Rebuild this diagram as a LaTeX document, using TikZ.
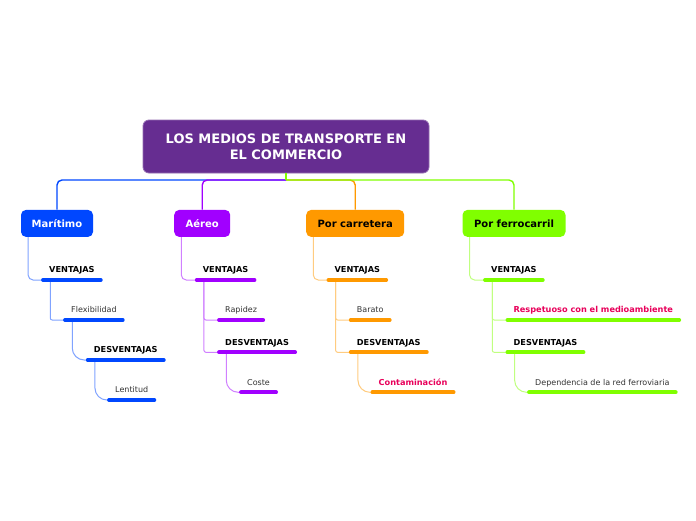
\documentclass[tikz,border=0pt]{standalone}
\usepackage{fontspec}
\setmainfont{DejaVu Sans}

\definecolor{cpurple}{HTML}{662D91}
\definecolor{cblue}{HTML}{0047FF}
\definecolor{cviolet}{HTML}{A100FF}
\definecolor{corange}{HTML}{FF9900}
\definecolor{cgreen}{HTML}{80FF00}
\definecolor{cpink}{HTML}{E8005A}

\begin{document}
\begin{tikzpicture}[x=1pt, y=-1pt,
    root/.style={fill=cpurple, draw=cpurple!70!white, line width=0.8pt, rounded corners=6pt,
      minimum width=286pt, minimum height=53pt, text=white, align=center,
      font=\fontsize{13}{16}\selectfont\bfseries},
    branch/.style={rounded corners=5pt, minimum height=27pt, inner sep=0pt,
      text height=9pt, text depth=0.2pt, font=\fontsize{10}{12}\selectfont\bfseries},
    item/.style={anchor=base west, inner xsep=6pt, inner ysep=0pt, text=black!80,
      font=\fontsize{8}{10}\selectfont},
    itemb/.style={item, text=black, font=\fontsize{8.2}{10}\selectfont\bfseries},
    bar/.style={line width=3.8pt, line cap=round},
    trunk/.style={line width=1.4pt, rounded corners=5pt},
    link/.style={line width=1pt}]
    \fill[white] (0,0) rectangle (696,520);

    \node[root] (root) at (286,146.5) {LOS MEDIOS DE TRANSPORTE EN\\EL COMMERCIO};
    \coordinate (fork) at (286,180);

    \node[branch, fill=cblue, text=white, minimum width=72pt] (mar) at (57,223.4) {Marítimo};
    \node[branch, fill=cviolet, text=white, minimum width=56pt] (aer) at (202.2,223.4) {Aéreo};
    \node[branch, fill=corange, minimum width=98pt] (car) at (355.2,223.4) {Por carretera};
    \node[branch, fill=cgreen, minimum width=103pt] (fer) at (514,223.4) {Por ferrocarril};

    \draw[trunk, cblue] (fork) -| (mar.north);
    \draw[trunk, corange] (fork) -| (car.north);
    \draw[trunk, cviolet] (fork) -| (aer.north);
    \draw[trunk, cgreen] (fork) -| (fer.north);
    \draw[line width=1.4pt, cgreen] (root.south) -- (fork);

    % Maritimo
    \node[itemb] (mv) at (43,272.7) {VENTAJAS};
    \node[item] (mf) at (65,312.7) {Flexibilidad};
    \node[itemb] (md) at (87.7,352.7) {DESVENTAJAS};
    \node[item] (ml) at (109,392.7) {Lentitud};
    % Aereo
    \node[itemb] (av) at (196.7,272.7) {VENTAJAS};
    \node[item] (ar) at (219,312.7) {Rapidez};
    \node[itemb] (ad) at (219,345) {DESVENTAJAS};
    \node[item] (ac) at (241,385) {Coste};
    % Por carretera
    \node[itemb] (cv) at (328.4,272.7) {VENTAJAS};
    \node[item] (cb) at (350.7,312.7) {Barato};
    \node[itemb] (cd) at (350.7,345) {DESVENTAJAS};
    \node[itemb, text=cpink] (cc) at (372.4,385) {Contaminación};
    % Por ferrocarril
    \node[itemb] (fv) at (485,272.7) {VENTAJAS};
    \node[itemb, text=cpink] (fr) at (507.4,312.7) {Respetuoso con el medioambiente};
    \node[itemb] (fd) at (507.4,345) {DESVENTAJAS};
    \node[item] (fp) at (529,385) {Dependencia de la red ferroviaria};

    \draw[link, cblue!50!white, rounded corners=5pt] ([xshift=7.3pt]mar.south west) |- ([yshift=-7.3pt]mv.base west);
    \draw[link, cblue!50!white, rounded corners=2pt] ([shift={(7.25pt,-7.3pt)}]mv.base west) |- ([yshift=-7.3pt]mf.base west);
    \draw[link, cblue!50!white, rounded corners=12pt] ([shift={(7.25pt,-7.3pt)}]mf.base west) |- ([yshift=-7.3pt]md.base west);
    \draw[link, cblue!50!white, rounded corners=12pt] ([shift={(7.25pt,-7.3pt)}]md.base west) |- ([yshift=-7.3pt]ml.base west);

    \draw[link, cviolet!50!white, rounded corners=5pt] ([xshift=7.3pt]aer.south west) |- ([yshift=-7.3pt]av.base west);
    \draw[link, cviolet!50!white, rounded corners=2pt] ([shift={(7.25pt,-7.3pt)}]av.base west) |- ([yshift=-7.3pt]ar.base west);
    \draw[link, cviolet!50!white, rounded corners=2pt] ([shift={(7.25pt,-7.3pt)}]av.base west) |- ([yshift=-7.3pt]ad.base west);
    \draw[link, cviolet!50!white, rounded corners=12pt] ([shift={(7.25pt,-7.3pt)}]ad.base west) |- ([yshift=-7.3pt]ac.base west);

    \draw[link, corange!50!white, rounded corners=5pt] ([xshift=7.3pt]car.south west) |- ([yshift=-7.3pt]cv.base west);
    \draw[link, corange!50!white, rounded corners=2pt] ([shift={(7.25pt,-7.3pt)}]cv.base west) |- ([yshift=-7.3pt]cb.base west);
    \draw[link, corange!50!white, rounded corners=2pt] ([shift={(7.25pt,-7.3pt)}]cv.base west) |- ([yshift=-7.3pt]cd.base west);
    \draw[link, corange!50!white, rounded corners=12pt] ([shift={(7.25pt,-7.3pt)}]cd.base west) |- ([yshift=-7.3pt]cc.base west);

    \draw[link, cgreen!50!white, rounded corners=5pt] ([xshift=7.3pt]fer.south west) |- ([yshift=-7.3pt]fv.base west);
    \draw[link, cgreen!50!white, rounded corners=2pt] ([shift={(7.25pt,-7.3pt)}]fv.base west) |- ([yshift=-7.3pt]fr.base west);
    \draw[link, cgreen!50!white, rounded corners=2pt] ([shift={(7.25pt,-7.3pt)}]fv.base west) |- ([yshift=-7.3pt]fd.base west);
    \draw[link, cgreen!50!white, rounded corners=12pt] ([shift={(7.25pt,-7.3pt)}]fd.base west) |- ([yshift=-7.3pt]fp.base west);

    % underline bars
    \foreach \n in {mv,mf,md,ml}
      \draw[bar, cblue] ([yshift=-7.3pt]\n.base west) -- ([yshift=-7.3pt]\n.base east);
    \foreach \n in {av,ar,ad,ac}
      \draw[bar, cviolet] ([yshift=-7.3pt]\n.base west) -- ([yshift=-7.3pt]\n.base east);
    \foreach \n in {cv,cb,cd,cc}
      \draw[bar, corange] ([yshift=-7.3pt]\n.base west) -- ([yshift=-7.3pt]\n.base east);
    \foreach \n in {fv,fr,fd,fp}
      \draw[bar, cgreen] ([yshift=-7.3pt]\n.base west) -- ([yshift=-7.3pt]\n.base east);
  \end{tikzpicture}
\end{document}
